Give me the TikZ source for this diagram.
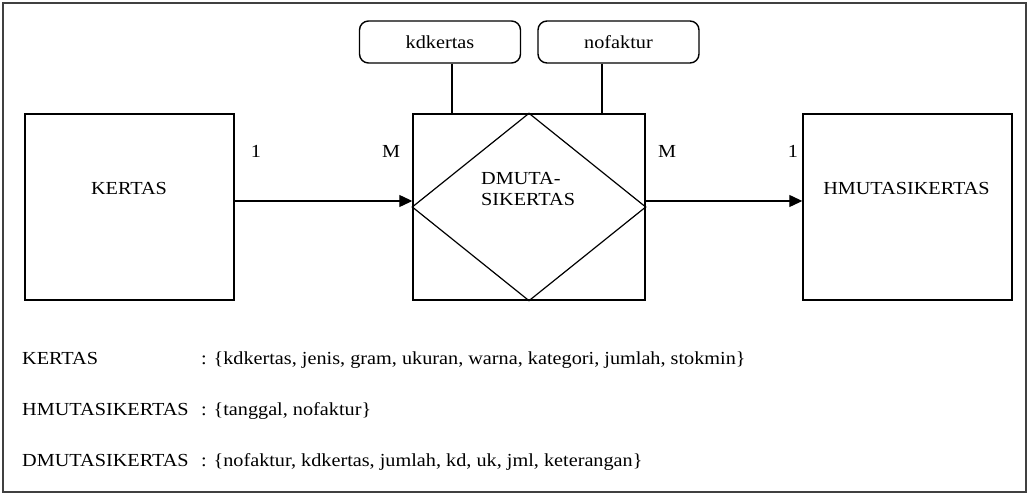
\documentclass[tikz,border=0pt]{standalone}
\usepackage{fontspec}
\setmainfont{Liberation Serif}[FakeStretch=1.1]
\usetikzlibrary{arrows.meta}
\begin{document}
\begin{tikzpicture}[x=1pt,y=-1pt,
  every node/.style={font=\fontsize{18.4}{21}\selectfont, inner sep=0pt},
  entity/.style={draw, line width=1.4pt, minimum width=209pt, minimum height=186pt},
  relbox/.style={draw, line width=1.4pt, minimum width=232pt, minimum height=186pt},
  attr/.style={draw, line width=1.4pt, rounded corners=9pt, minimum width=161pt, minimum height=42pt},
  link/.style={line width=1.2pt},
  arr/.style={line width=1.2pt, -{Triangle[length=13pt,width=12pt]}},
  card/.style={anchor=base},
  desc/.style={anchor=base west}]
  \useasboundingbox (0,0) rectangle (1029,494);
  % outer frame
  \draw[line width=2pt, black!75] (2.5,3.5) rectangle (1026,492);

  % entities and the relationship
  \node[entity] (kertas) at (129.3,207) {};
  \node at (129,189) {KERTAS};
  \node[relbox] (rel) at (529,207) {};
  \draw[line width=1.2pt] (rel.north) -- (rel.east) -- (rel.south) -- (rel.west) -- cycle;
  \node[align=left, anchor=west] (reltext) at (481,189) {DMUTA-\\SIKERTAS};
  \node[entity] (hm) at (907.5,207) {};
  \node at (906.5,189) {HMUTASIKERTAS};

  % attributes
  \node[attr] (kd) at (440,42) {kdkertas};
  \node[attr] (nf) at (618.5,42) {nofaktur};
  \draw[link] ([xshift=12pt]kd.south) -- ([xshift=12pt]kd.south |- rel.north);
  \draw[link] ([xshift=-16.5pt]nf.south) -- ([xshift=-16.5pt]nf.south |- rel.north);

  % connectors
  \draw[arr] ([yshift=6pt]kertas.east) -- ([yshift=6pt]rel.west);
  \draw[arr] ([yshift=6pt]rel.east) -- ([yshift=6pt]hm.west);

  % cardinalities
  \node[card] (c1) at (256,158) {1};
  \node[card] (c2) at (391,158) {M};
  \node[card] (c3) at (667,158) {M};
  \node[card] (c4) at (793,158) {1};

  % relation schemes
  \node[desc] (d1) at (22,365) {KERTAS};
  \node[desc] (d1b) at (201,365) {: \{kdkertas, jenis, gram, ukuran, warna, kategori, jumlah, stokmin\}};
  \node[desc] (d2) at (22,416) {HMUTASIKERTAS};
  \node[desc] (d2b) at (201,416) {: \{tanggal, nofaktur\}};
  \node[desc] (d3) at (22,467) {DMUTASIKERTAS};
  \node[desc] (d3b) at (201,467) {: \{nofaktur, kdkertas, jumlah, kd, uk, jml, keterangan\}};
\end{tikzpicture}
\end{document}
